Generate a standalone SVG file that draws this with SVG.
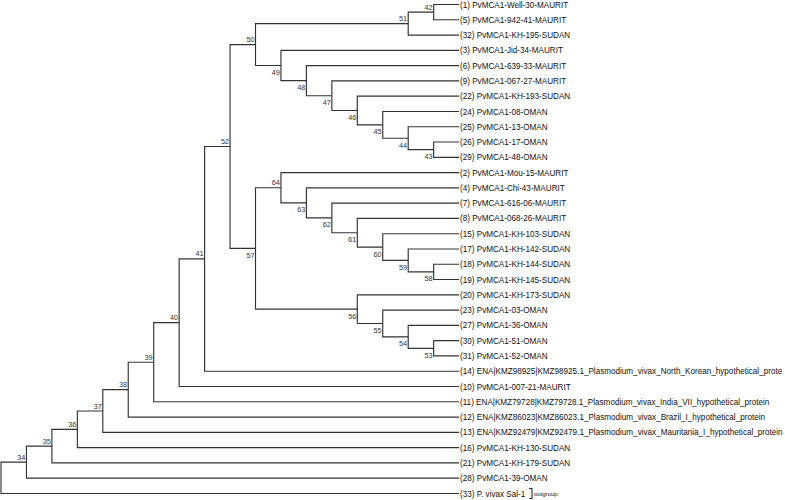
<svg xmlns="http://www.w3.org/2000/svg" width="785" height="500" viewBox="0 0 785 500">
<style>
.br{fill:none;stroke:#333;stroke-width:1.15}
.lf{font-family:"Liberation Sans",Arial,sans-serif;font-size:8.15px;fill:#111}
.nl{font-family:"Liberation Sans",Arial,sans-serif;font-size:7.3px;fill:#333;text-anchor:end}
.og{font-family:"Liberation Sans",Arial,sans-serif;font-size:6px;fill:#111}
</style>
<rect width="785" height="500" fill="#fff"/>
<g id="connectors" class="br">
<path d="M26.45,462.14H1V493.46H459.1"/>
<path d="M51.9,446.1H26.45V478.18H459.1"/>
<path d="M77.35,429.31H51.9V462.9H459.1"/>
<path d="M102.8,411H77.35V447.62H459.1"/>
<path d="M128.25,389.65H102.8V432.34H459.1"/>
<path d="M153.7,362.23H128.25V417.06H459.1"/>
<path d="M179.15,322.68H153.7V401.78H459.1"/>
<path d="M204.6,258.86H179.15V386.5H459.1"/>
<path d="M230.05,146.5H204.6V371.22H459.1"/>
<path d="M255.5,44.55H230.05V248.44H255.5"/>
<path d="M408.2,23.6H255.5V65.5H280.95"/>
<path d="M433.65,12.14H408.2V35.06H459.1"/>
<path d="M459.1,4.5H433.65V19.78H459.1"/>
<path d="M459.1,50.34H280.95V80.66H306.4"/>
<path d="M459.1,65.62H306.4V95.7H331.85"/>
<path d="M459.1,80.9H331.85V110.5H357.3"/>
<path d="M459.1,96.18H357.3V124.83H382.75"/>
<path d="M459.1,111.46H382.75V138.2H408.2"/>
<path d="M459.1,126.74H408.2V149.66H433.65"/>
<path d="M459.1,142.02H433.65V157.3H459.1"/>
<path d="M280.95,187.74H255.5V309.15H357.3"/>
<path d="M459.1,172.58H280.95V202.9H306.4"/>
<path d="M459.1,187.86H306.4V217.94H331.85"/>
<path d="M459.1,203.14H331.85V232.75H357.3"/>
<path d="M459.1,218.42H357.3V247.07H382.75"/>
<path d="M459.1,233.7H382.75V260.44H408.2"/>
<path d="M459.1,248.98H408.2V271.9H433.65"/>
<path d="M459.1,264.26H433.65V279.54H459.1"/>
<path d="M459.1,294.82H357.3V323.47H382.75"/>
<path d="M459.1,310.1H382.75V336.84H408.2"/>
<path d="M459.1,325.38H408.2V348.3H433.65"/>
<path d="M459.1,340.66H433.65V355.94H459.1"/>
<path d="M529,488.5H532V498.5H529"/>
</g>
<g id="node-labels">
<g id="n34"><text class="nl" x="25.4" y="459.6">34</text></g>
<g id="n35"><text class="nl" x="50.9" y="443.6">35</text></g>
<g id="n36"><text class="nl" x="76.3" y="426.8">36</text></g>
<g id="n37"><text class="nl" x="101.8" y="408.5">37</text></g>
<g id="n38"><text class="nl" x="127.2" y="387.1">38</text></g>
<g id="n39"><text class="nl" x="152.7" y="359.7">39</text></g>
<g id="n40"><text class="nl" x="178.1" y="320.2">40</text></g>
<g id="n41"><text class="nl" x="203.6" y="256.4">41</text></g>
<g id="n52"><text class="nl" x="229" y="144">52</text></g>
<g id="n50"><text class="nl" x="254.5" y="42">50</text></g>
<g id="n51"><text class="nl" x="407.2" y="21.1">51</text></g>
<g id="n42"><text class="nl" x="432.6" y="9.6">42</text></g>
<g id="n49"><text class="nl" x="279.9" y="75">49</text></g>
<g id="n48"><text class="nl" x="305.4" y="90.2">48</text></g>
<g id="n47"><text class="nl" x="330.8" y="105.2">47</text></g>
<g id="n46"><text class="nl" x="356.3" y="120">46</text></g>
<g id="n45"><text class="nl" x="381.7" y="134.3">45</text></g>
<g id="n44"><text class="nl" x="407.2" y="147.7">44</text></g>
<g id="n43"><text class="nl" x="432.6" y="159.2">43</text></g>
<g id="n57"><text class="nl" x="254.5" y="257.9">57</text></g>
<g id="n64"><text class="nl" x="279.9" y="185.2">64</text></g>
<g id="n63"><text class="nl" x="305.4" y="212.4">63</text></g>
<g id="n62"><text class="nl" x="330.8" y="227.4">62</text></g>
<g id="n61"><text class="nl" x="356.3" y="242.2">61</text></g>
<g id="n60"><text class="nl" x="381.7" y="256.6">60</text></g>
<g id="n59"><text class="nl" x="407.2" y="269.9">59</text></g>
<g id="n58"><text class="nl" x="432.6" y="281.4">58</text></g>
<g id="n56"><text class="nl" x="356.3" y="318.6">56</text></g>
<g id="n55"><text class="nl" x="381.7" y="333">55</text></g>
<g id="n54"><text class="nl" x="407.2" y="346.3">54</text></g>
<g id="n53"><text class="nl" x="432.6" y="357.8">53</text></g>
</g>
<g id="leaves">
<g id="t1"><text class="lf" x="460" y="7.5">(1) PvMCA1-Well-30-MAURIT</text></g>
<g id="t5"><text class="lf" x="460" y="22.8">(5) PvMCA1-942-41-MAURIT</text></g>
<g id="t32"><text class="lf" x="460" y="38.1">(32) PvMCA1-KH-195-SUDAN</text></g>
<g id="t3"><text class="lf" x="460" y="53.3">(3) PvMCA1-Jid-34-MAURIT</text></g>
<g id="t6"><text class="lf" x="460" y="68.6">(6) PvMCA1-639-33-MAURIT</text></g>
<g id="t9"><text class="lf" x="460" y="83.9">(9) PvMCA1-067-27-MAURIT</text></g>
<g id="t22"><text class="lf" x="460" y="99.2">(22) PvMCA1-KH-193-SUDAN</text></g>
<g id="t24"><text class="lf" x="460" y="114.5">(24) PvMCA1-08-OMAN</text></g>
<g id="t25"><text class="lf" x="460" y="129.7">(25) PvMCA1-13-OMAN</text></g>
<g id="t26"><text class="lf" x="460" y="145">(26) PvMCA1-17-OMAN</text></g>
<g id="t29"><text class="lf" x="460" y="160.3">(29) PvMCA1-48-OMAN</text></g>
<g id="t2"><text class="lf" x="460" y="175.6">(2) PvMCA1-Mou-15-MAURIT</text></g>
<g id="t4"><text class="lf" x="460" y="190.9">(4) PvMCA1-Chi-43-MAURIT</text></g>
<g id="t7"><text class="lf" x="460" y="206.1">(7) PvMCA1-616-06-MAURIT</text></g>
<g id="t8"><text class="lf" x="460" y="221.4">(8) PvMCA1-068-26-MAURIT</text></g>
<g id="t15"><text class="lf" x="460" y="236.7">(15) PvMCA1-KH-103-SUDAN</text></g>
<g id="t17"><text class="lf" x="460" y="252">(17) PvMCA1-KH-142-SUDAN</text></g>
<g id="t18"><text class="lf" x="460" y="267.3">(18) PvMCA1-KH-144-SUDAN</text></g>
<g id="t19"><text class="lf" x="460" y="282.5">(19) PvMCA1-KH-145-SUDAN</text></g>
<g id="t20"><text class="lf" x="460" y="297.8">(20) PvMCA1-KH-173-SUDAN</text></g>
<g id="t23"><text class="lf" x="460" y="313.1">(23) PvMCA1-03-OMAN</text></g>
<g id="t27"><text class="lf" x="460" y="328.4">(27) PvMCA1-36-OMAN</text></g>
<g id="t30"><text class="lf" x="460" y="343.7">(30) PvMCA1-51-OMAN</text></g>
<g id="t31"><text class="lf" x="460" y="358.9">(31) PvMCA1-52-OMAN</text></g>
<g id="t14"><text class="lf" x="460" y="374.2">(14) ENA|KMZ98925|KMZ98925.1_Plasmodium_vivax_North_Korean_hypothetical_prote</text></g>
<g id="t10"><text class="lf" x="460" y="389.5">(10) PvMCA1-007-21-MAURIT</text></g>
<g id="t11"><text class="lf" x="460" y="404.8">(11) ENA|KMZ79728|KMZ79728.1_Plasmodium_vivax_India_VII_hypothetical_protein</text></g>
<g id="t12"><text class="lf" x="460" y="420.1">(12) ENA|KMZ86023|KMZ86023.1_Plasmodium_vivax_Brazil_I_hypothetical_protein</text></g>
<g id="t13"><text class="lf" x="460" y="435.3">(13) ENA|KMZ92479|KMZ92479.1_Plasmodium_vivax_Mauritania_I_hypothetical_protein</text></g>
<g id="t16"><text class="lf" x="460" y="450.6">(16) PvMCA1-KH-130-SUDAN</text></g>
<g id="t21"><text class="lf" x="460" y="465.9">(21) PvMCA1-KH-179-SUDAN</text></g>
<g id="t28"><text class="lf" x="460" y="481.2">(28) PvMCA1-39-OMAN</text></g>
<g id="t33"><text class="lf" x="460" y="496.5">(33) P. vivax Sal-1</text><text class="og" x="534" y="496">outgroup</text></g>
</g>
</svg>
